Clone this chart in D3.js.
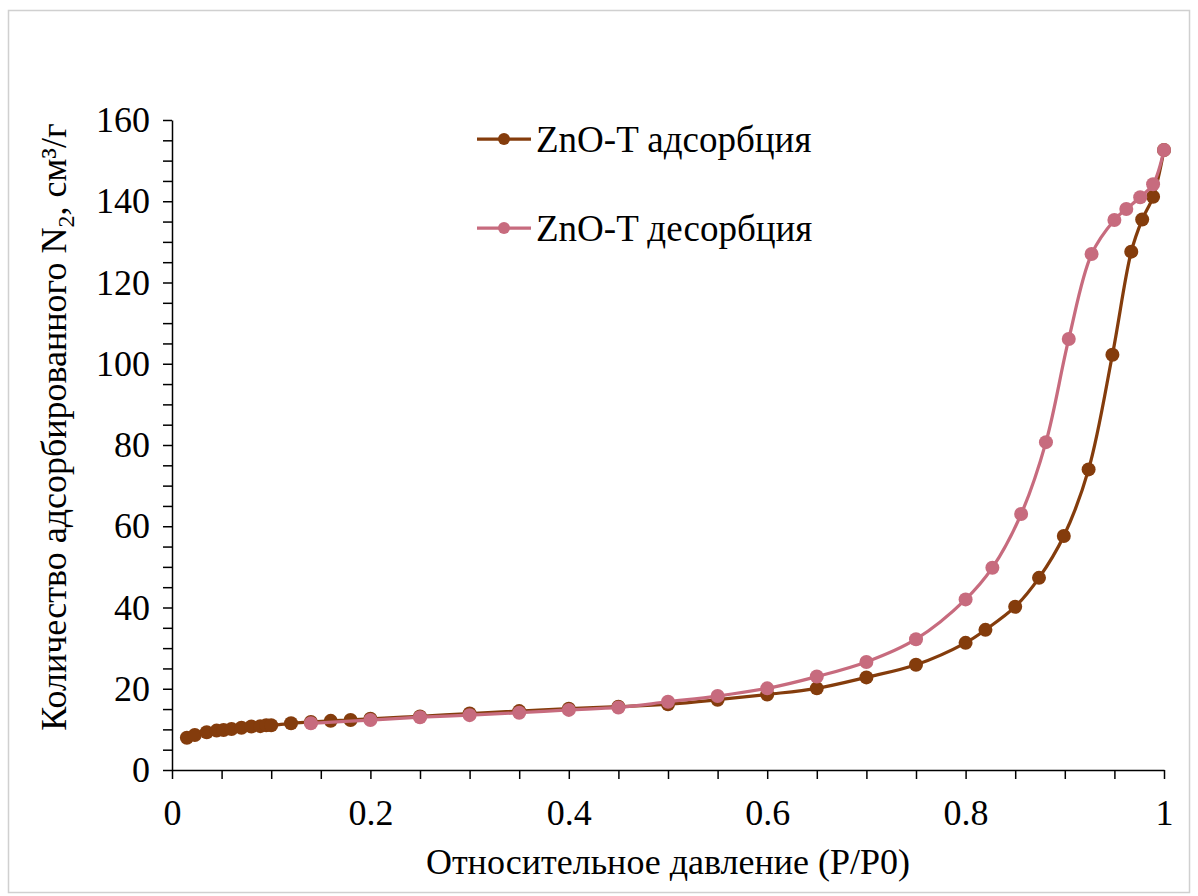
<!DOCTYPE html>
<html>
<head>
<meta charset="utf-8">
<style>
body { margin: 0; background: #fff; }
svg, svg text { font-family: "Times New Roman", "Liberation Serif", "DejaVu Serif", serif; }
</style>
</head>
<body>
<svg width="1198" height="896"></svg>
<script src="https://d3js.org/d3.v7.min.js"></script>
<script>

// adsorption branch (P/P0, cm3/g)
var adsP = [0.015, 0.023, 0.035, 0.045, 0.052, 0.06, 0.07, 0.08, 0.089, 0.095, 0.1, 0.12, 0.14, 0.16, 0.18, 0.2,
            0.25, 0.3, 0.35, 0.4, 0.45, 0.5, 0.55, 0.6, 0.65, 0.7, 0.75, 0.8, 0.82, 0.85, 0.874, 0.899, 0.924,
            0.948, 0.967, 0.978, 0.989, 1.0];
var adsV = [7.95, 8.6, 9.3, 9.7, 9.85, 10.1, 10.4, 10.7, 10.8, 11.0, 11.0, 11.5, 11.8, 12.1, 12.3, 12.6,
            13.2, 13.9, 14.5, 15.1, 15.6, 16.2, 17.3, 18.6, 20.1, 22.8, 25.9, 31.3, 34.5, 40.2, 47.3, 57.6, 74.0,
            102.2, 127.6, 135.5, 141.1, 152.6];

// desorption branch
var desP = [0.14, 0.2, 0.25, 0.3, 0.35, 0.4, 0.45, 0.5, 0.55, 0.6, 0.65, 0.7, 0.75, 0.8, 0.827, 0.856,
            0.881, 0.904, 0.927, 0.95, 0.962, 0.976, 0.989, 1.0];
var desV = [11.5, 12.3, 13.0, 13.5, 14.1, 14.8, 15.4, 16.8, 18.2, 20.1, 23.0, 26.6, 32.2, 42.0, 49.8, 63.0,
            80.7, 106.1, 127.0, 135.4, 138.1, 141.0, 144.2, 152.6];

var seriesNames = ["ZnO-T адсорбция", "ZnO-T десорбция"];
var seriesColors = ["#843c0c", "#c76b7e"];

var xTicks = d3.range(21).map(function(i) { return i / 20; });
var yTicks = d3.range(33).map(function(i) { return i * 5; });

var serif = "'Times New Roman', 'Liberation Serif', 'DejaVu Serif', serif";

var svg = d3.select("svg");

// outer chart frame
svg.append("rect")
    .attr("x", 8.5).attr("y", 10.5)
    .attr("width", 1181).attr("height", 882)
    .attr("fill", "none")
    .attr("stroke", "#d0d0d0")
    .attr("stroke-width", 1.5);

var x = d3.scaleLinear().domain([0, 1]).range([172, 1164]);
var y = d3.scaleLinear().domain([0, 160]).range([770, 120]);

// x axis
svg.append("g")
    .attr("transform", "translate(0,770)")
    .call(d3.axisBottom(x)
      .tickValues(xTicks)
      .tickSize(9)
      .tickSizeOuter(0)
      .tickPadding(20)
      .tickFormat(function(d, i) { return i % 4 === 0 ? String(d) : ""; }));

// y axis
svg.append("g")
    .attr("transform", "translate(172,0)")
    .call(d3.axisLeft(y)
      .tickValues(yTicks)
      .tickSize(9)
      .tickSizeOuter(0)
      .tickPadding(13)
      .tickFormat(function(d) { return d % 20 === 0 ? d : ""; }));

svg.selectAll("g").attr("font-family", serif);
svg.selectAll(".domain").attr("stroke", "#000").attr("stroke-width", 1.5);
svg.selectAll(".tick line").attr("stroke", "#000").attr("stroke-width", 1.5);
svg.selectAll(".tick text")
    .attr("fill", "#000")
    .attr("font-family", serif)
    .attr("font-size", 36);

// axis titles
svg.append("text")
    .attr("x", 668).attr("y", 874)
    .attr("text-anchor", "middle")
    .attr("font-family", serif)
    .attr("font-size", 36)
    .text("Относительное давление (P/P0)");

var yTitle = svg.append("text")
    .attr("transform", "translate(66,427) rotate(-90)")
    .attr("text-anchor", "middle")
    .attr("font-family", serif)
    .attr("font-size", 36);
yTitle.append("tspan").text("Количество адсорбированного N");
yTitle.append("tspan").attr("dy", 8).attr("font-size", 24).text("2");
yTitle.append("tspan").attr("dy", -8).text(", см³/г");

// series
var line = d3.line()
    .x(function(d) { return x(d[0]); })
    .y(function(d) { return y(d[1]); })
    .curve(d3.curveCatmullRom.alpha(0.5));

var series = [d3.zip(adsP, adsV), d3.zip(desP, desV)];

series.forEach(function(pts, k) {
  svg.append("path")
      .datum(pts)
      .attr("d", line)
      .attr("fill", "none")
      .attr("stroke", seriesColors[k])
      .attr("stroke-width", 3.25);

  svg.append("g").selectAll("circle")
      .data(pts)
    .enter().append("circle")
      .attr("cx", function(d) { return x(d[0]); })
      .attr("cy", function(d) { return y(d[1]); })
      .attr("r", 7)
      .attr("fill", seriesColors[k]);
});

// legend
var legend = svg.append("g")
  .selectAll("g")
  .data(seriesNames)
  .enter().append("g")
    .attr("transform", function(d, i) { return "translate(0," + (139 + i * 89) + ")"; });

legend.append("line")
    .attr("x1", 477).attr("x2", 531)
    .attr("stroke", function(d, i) { return seriesColors[i]; })
    .attr("stroke-width", 3.25);

legend.append("circle")
    .attr("cx", 504).attr("r", 6)
    .attr("fill", function(d, i) { return seriesColors[i]; });

legend.append("text")
    .attr("x", 536).attr("y", 13)
    .attr("font-family", serif)
    .attr("font-size", 37)
    .text(function(d) { return d; });

</script>
</body>
</html>
